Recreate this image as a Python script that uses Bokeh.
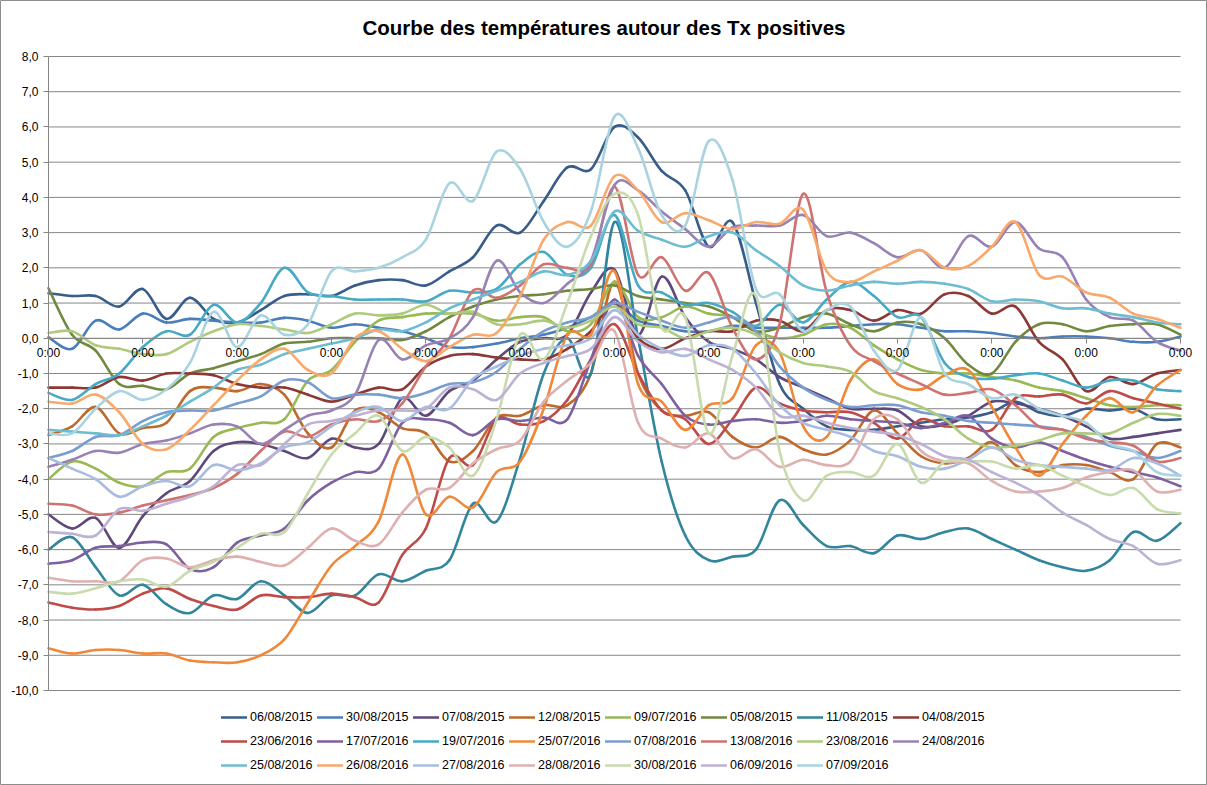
from bokeh.plotting import figure
from bokeh.models import Range1d, FixedTicker, LinearAxis, Legend, LegendItem, ColumnDataSource, Label
from bokeh.embed import file_html
from bokeh.resources import INLINE

# time axis (hours around the day of the positive Tx), one value every 6 h
hours = list(range(-144, 145, 6))
day_ticks = list(range(-144, 145, 24))
y_ticks = list(range(-10, 9))

t_06_08_2015 = [1.28, 1.2, 1.2, 0.9, 1.4, 0.55, 1.15, 0.55, 0.45, 0.8, 1.2, 1.25, 1.2, 1.5, 1.65, 1.65, 1.5, 1.9, 2.3, 3.2, 3.0, 3.9, 4.85, 4.8, 6.0, 5.7, 4.75, 4.2, 2.6, 3.3, 1.0, -1.3, -2.0, -2.5, -2.6, -2.6, -2.5, -2.4, -2.3, -2.25, -2.1, -1.8, -2.1, -2.2, -2.0, -2.05, -2.0, -2.3, -2.3]
t_30_08_2015 = [0.03, -0.3, 0.5, 0.25, 0.7, 0.45, 0.55, 0.5, 0.45, 0.45, 0.58, 0.5, 0.3, 0.4, 0.3, 0.2, 0.0, -0.25, -0.25, -0.15, 0.0, 0.1, 0.3, 0.6, 1.0, 0.5, 0.35, 0.2, 0.2, 0.35, 0.3, 0.3, 0.3, 0.3, 0.35, 0.4, 0.4, 0.3, 0.2, 0.2, 0.15, 0.05, 0.0, 0.05, 0.05, 0.0, -0.1, -0.1, 0.05]
t_07_08_2015 = [-5.0, -5.4, -5.1, -5.95, -5.05, -4.4, -4.05, -3.2, -2.95, -3.0, -3.2, -3.4, -2.85, -3.1, -3.0, -1.7, -2.2, -1.5, -1.2, -0.6, -0.1, 0.0, 0.1, 1.3, 1.95, 0.1, 1.75, 0.6, -0.1, -0.3, -0.6, -1.1, -1.4, -1.7, -2.0, -2.0, -2.05, -2.5, -2.45, -2.2, -1.8, -1.85, -2.0, -2.2, -2.5, -2.85, -2.8, -2.7, -2.6]
t_12_08_2015 = [-2.75, -2.5, -1.95, -2.7, -2.55, -2.4, -1.5, -1.4, -1.5, -1.3, -1.6, -2.7, -3.1, -2.05, -2.1, -2.55, -2.7, -3.5, -3.2, -2.25, -2.2, -1.9, -1.9, -1.0, 1.6, -1.0, -2.05, -2.2, -2.1, -2.8, -3.1, -2.8, -3.15, -3.3, -2.9, -2.05, -2.7, -3.35, -3.55, -3.4, -2.95, -3.6, -3.8, -3.6, -3.6, -3.8, -4.0, -3.0, -3.1]
t_09_07_2016 = [-4.0, -3.5, -3.7, -4.1, -4.2, -3.8, -3.7, -2.8, -2.55, -2.4, -2.3, -1.2, -0.9, -0.1, 0.5, 0.6, 0.7, 0.7, 0.7, 0.5, 0.6, 0.6, 0.2, 0.4, 1.6, 0.6, 0.6, 0.9, 0.7, 0.6, 0.2, 0.0, 0.1, 0.4, 0.3, -0.2, -0.6, -0.9, -1.0, -1.0, -1.1, -1.2, -1.4, -1.5, -1.7, -1.9, -1.95, -1.9, -1.9]
t_05_08_2015 = [1.42, 0.1, -0.35, -1.3, -1.35, -1.45, -1.0, -0.85, -0.65, -0.45, -0.15, -0.1, 0.0, 0.0, 0.0, -0.05, 0.2, 0.6, 0.9, 1.1, 1.2, 1.25, 1.35, 1.4, 1.5, 1.2, 1.1, 1.0, 0.9, 0.6, 0.2, 0.3, 0.6, 0.7, 0.4, 0.2, 0.45, 0.4, 0.0, -0.75, -1.0, -0.1, 0.4, 0.4, 0.2, 0.35, 0.4, 0.4, 0.1]
t_11_08_2015 = [-6.0, -5.65, -6.5, -7.3, -7.0, -7.55, -7.8, -7.3, -7.4, -6.9, -7.3, -7.8, -7.3, -7.3, -6.7, -6.9, -6.6, -6.3, -4.7, -5.2, -3.4, -1.0, 0.0, -1.0, 3.3, 0.0, -3.5, -5.6, -6.3, -6.2, -6.0, -4.6, -5.3, -5.9, -5.9, -6.1, -5.6, -5.7, -5.5, -5.4, -5.7, -6.0, -6.3, -6.5, -6.6, -6.3, -5.5, -5.75, -5.25]
t_04_08_2015 = [-1.4, -1.4, -1.4, -1.1, -1.2, -1.0, -1.0, -1.05, -1.3, -1.4, -1.4, -1.6, -1.8, -1.6, -1.4, -1.45, -0.8, -0.5, -0.45, -0.55, -0.6, -0.6, -0.3, 0.2, 1.0, 0.0, -0.3, 0.0, 0.2, 0.2, 0.5, 0.5, 0.2, 0.8, 0.8, 0.5, 0.8, 0.7, 1.25, 1.2, 0.7, 0.9, -0.1, -0.6, -1.5, -1.1, -1.3, -1.0, -0.9]
t_23_06_2016 = [-7.5, -7.65, -7.7, -7.6, -7.25, -7.1, -7.4, -7.6, -7.7, -7.3, -7.35, -7.35, -7.25, -7.35, -7.5, -6.15, -5.4, -3.4, -3.6, -2.3, -2.45, -2.35, -1.75, -0.6, 0.4, -1.0, -2.05, -2.3, -3.0, -2.3, -1.4, -1.85, -2.05, -2.1, -2.1, -2.4, -2.85, -2.3, -2.5, -2.5, -2.6, -1.7, -1.65, -1.6, -1.85, -1.5, -1.7, -1.85, -2.0]
t_17_07_2016 = [-6.4, -6.3, -5.95, -5.9, -5.8, -5.85, -6.55, -6.5, -5.8, -5.6, -5.4, -4.6, -4.1, -3.8, -3.7, -2.4, -2.3, -2.4, -2.75, -2.3, -2.35, -2.25, -2.3, -0.6, 1.1, -0.5, -1.3, -2.2, -2.45, -2.35, -2.3, -2.4, -2.35, -2.2, -2.3, -2.35, -2.4, -2.55, -2.4, -2.2, -2.85, -3.1, -2.95, -3.2, -3.45, -3.65, -3.8, -3.95, -4.2]
t_19_07_2016 = [-1.55, -1.75, -1.3, -1.0, -0.25, 0.2, 0.1, 0.95, 0.45, 1.0, 2.0, 1.3, 1.2, 1.1, 1.1, 1.1, 1.05, 1.35, 1.3, 1.4, 2.1, 2.45, 1.8, 2.0, 3.5, 1.5, 1.3, 0.95, 1.0, 0.75, 0.35, 0.95, 0.45, 1.1, 1.6, 1.2, 0.6, 0.6, -0.7, -1.1, -1.15, -1.05, -1.0, -1.2, -1.4, -1.2, -1.2, -1.45, -1.5]
t_25_07_2016 = [-8.8, -8.95, -8.85, -8.85, -8.95, -8.95, -9.15, -9.2, -9.2, -9.0, -8.55, -7.5, -6.45, -5.9, -5.2, -3.3, -5.0, -4.5, -4.8, -3.8, -3.5, -2.0, 0.1, 0.1, 1.9, -1.3, -1.8, -2.6, -1.9, -1.7, -0.2, -0.4, -2.5, -2.8, -1.2, -0.6, -1.3, -1.45, -1.05, -0.9, -1.95, -3.1, -3.9, -3.0, -2.2, -1.7, -2.1, -1.35, -0.9]
t_07_08_2016 = [-3.4, -3.2, -2.8, -2.75, -2.35, -2.1, -2.05, -2.05, -1.85, -1.65, -1.2, -1.25, -1.7, -1.6, -1.6, -1.7, -1.55, -1.3, -1.25, -0.95, -0.3, 0.2, 0.45, 0.6, 1.0, 0.75, 0.5, 0.3, 0.45, 0.6, 0.2, -0.8, -1.4, -1.75, -1.95, -1.9, -1.9, -2.1, -2.2, -2.35, -2.4, -2.45, -2.5, -2.6, -2.8, -3.05, -3.2, -3.4, -3.2]
t_13_08_2016 = [-4.7, -4.75, -5.0, -4.95, -4.75, -4.6, -4.45, -4.25, -3.85, -3.2, -2.65, -2.8, -2.45, -2.3, -2.35, -1.85, -0.8, 0.0, 1.35, 1.15, 1.5, 2.1, 2.0, 2.1, 4.3, 1.8, 2.3, 1.35, 1.85, 0.3, -0.6, 0.4, 4.1, 1.3, -0.2, -0.65, -1.0, -1.3, -1.6, -1.55, -1.45, -1.9, -2.5, -2.6, -2.85, -2.95, -3.05, -3.5, -3.4]
t_23_08_2016 = [0.15, 0.2, -0.2, -0.3, -0.45, -0.45, -0.1, 0.2, 0.4, 0.35, 0.25, 0.15, 0.4, 0.7, 0.65, 0.7, 0.95, 0.7, 0.75, 0.4, 0.4, 0.5, 0.3, 0.5, 0.9, 0.4, 0.3, 0.0, 0.2, 0.3, 0.1, -0.4, -0.7, -0.8, -0.95, -1.5, -1.7, -1.95, -2.3, -2.85, -3.1, -3.05, -2.9, -2.7, -2.7, -2.7, -2.4, -2.15, -2.2]
t_24_08_2016 = [-3.65, -3.45, -3.2, -3.25, -3.0, -2.9, -2.7, -2.45, -2.5, -3.0, -2.6, -2.2, -2.05, -1.6, -0.05, -0.6, -0.2, 0.0, 0.6, 2.2, 1.3, 1.0, 1.55, 2.2, 4.35, 4.2, 3.6, 3.1, 2.6, 3.15, 3.2, 3.2, 3.5, 2.9, 3.0, 2.7, 2.3, 2.5, 2.0, 2.9, 2.6, 3.3, 2.55, 2.3, 1.1, 0.6, 0.5, -0.1, -0.35]
t_25_08_2016 = [-2.6, -2.65, -2.7, -2.75, -2.5, -2.2, -1.8, -1.4, -0.9, -0.75, -0.45, -0.3, -0.15, 0.0, 0.25, 0.2, 0.45, 0.85, 1.1, 1.35, 1.6, 1.9, 1.8, 2.2, 3.6, 3.05, 2.8, 2.6, 2.9, 3.0, 2.5, 2.05, 1.5, 1.35, 1.5, 1.6, 1.55, 1.6, 1.55, 1.4, 1.05, 1.1, 1.05, 0.85, 0.85, 0.7, 0.6, 0.45, 0.4]
t_26_08_2016 = [-1.8, -1.85, -1.6, -2.1, -3.0, -3.15, -2.6, -1.9, -1.2, -0.6, -0.3, -0.9, -1.0, 0.0, 0.2, -0.3, -0.65, -0.25, 0.1, 0.15, 1.2, 2.8, 3.3, 3.2, 4.6, 4.2, 3.3, 3.55, 3.35, 3.1, 3.3, 3.25, 3.65, 1.9, 1.6, 1.9, 2.2, 2.5, 2.0, 2.05, 2.6, 3.3, 1.8, 1.75, 1.3, 1.15, 0.7, 0.55, 0.3]
t_27_08_2016 = [-3.4, -3.7, -4.0, -4.5, -4.2, -4.05, -4.2, -3.6, -3.75, -3.55, -3.1, -2.95, -2.5, -2.1, -1.95, -2.35, -1.95, -2.0, -1.15, -0.8, -0.5, -0.3, -0.2, 0.0, 0.8, 0.1, -0.3, -0.5, -0.2, -0.3, -1.0, -1.9, -2.4, -2.6, -2.8, -3.2, -3.35, -3.65, -3.7, -3.45, -3.1, -3.45, -3.6, -3.65, -3.7, -3.75, -3.4, -3.55, -3.9]
t_28_08_2016 = [-6.8, -6.9, -6.9, -6.9, -6.3, -6.25, -6.5, -6.3, -6.2, -6.35, -6.45, -5.95, -5.4, -5.75, -5.85, -4.95, -4.3, -4.25, -3.55, -3.15, -2.9, -1.8, -1.2, -0.7, 0.2, -2.4, -2.85, -3.1, -2.7, -3.4, -3.15, -3.65, -3.45, -3.6, -3.5, -2.3, -2.3, -3.2, -3.5, -3.55, -4.05, -4.35, -4.35, -4.25, -3.95, -3.8, -3.75, -4.35, -4.3]
t_30_08_2016 = [-7.2, -7.25, -7.1, -6.9, -6.85, -7.05, -6.6, -6.35, -5.95, -5.55, -5.5, -4.4, -3.3, -2.7, -2.2, -3.2, -2.8, -3.1, -3.9, -2.3, 0.1, -0.6, 1.0, 2.9, 4.1, 3.5, 0.3, 0.6, -2.7, -0.5, 1.2, -3.2, -4.6, -3.9, -3.8, -3.9, -3.0, -4.1, -3.5, -3.5, -3.5, -3.7, -3.6, -3.9, -4.2, -4.45, -4.25, -4.85, -4.97]
t_06_09_2016 = [-5.5, -5.55, -5.6, -4.85, -4.9, -4.7, -4.5, -4.2, -3.6, -3.6, -3.0, -2.45, -2.35, -2.2, -2.05, -2.05, -2.0, -1.4, -1.45, -1.75, -1.0, -0.7, -0.5, -0.3, 0.6, -0.1, -0.4, -0.3, -0.6, -0.9, -1.4, -2.2, -2.2, -2.4, -2.55, -2.65, -2.75, -3.0, -3.35, -3.45, -3.8, -4.1, -4.45, -4.95, -5.3, -5.7, -5.9, -6.4, -6.3]
t_07_09_2016 = [-2.7, -2.7, -2.0, -1.5, -1.75, -1.45, -0.7, 0.75, -0.25, 0.65, 0.1, 0.4, 1.9, 1.9, 2.0, 2.3, 2.8, 4.4, 3.9, 5.3, 4.8, 3.3, 2.6, 3.6, 6.3, 5.4, 3.5, 3.2, 5.6, 4.5, 1.4, 1.25, 0.2, 0.8, 0.9, -0.35, -0.9, 0.6, -1.0, -1.3, -1.7, -1.6, -2.0, -2.2, -2.4, -3.0, -3.2, -3.8, -3.9]

labels = ["06/08/2015", "30/08/2015", "07/08/2015", "12/08/2015", "09/07/2016", "05/08/2015",
          "11/08/2015", "04/08/2015", "23/06/2016", "17/07/2016", "19/07/2016", "25/07/2016",
          "07/08/2016", "13/08/2016", "23/08/2016", "24/08/2016", "25/08/2016", "26/08/2016",
          "27/08/2016", "28/08/2016", "30/08/2016", "06/09/2016", "07/09/2016"]
series = [t_06_08_2015, t_30_08_2015, t_07_08_2015, t_12_08_2015, t_09_07_2016, t_05_08_2015,
          t_11_08_2015, t_04_08_2015, t_23_06_2016, t_17_07_2016, t_19_07_2016, t_25_07_2016,
          t_07_08_2016, t_13_08_2016, t_23_08_2016, t_24_08_2016, t_25_08_2016, t_26_08_2016,
          t_27_08_2016, t_28_08_2016, t_30_08_2016, t_06_09_2016, t_07_09_2016]
colors = ["#385D8A", "#4A7EBB", "#5F497A", "#BE6A2C", "#98B954", "#71893F",
          "#31859C", "#8C3836", "#BE4B48", "#7D60A0", "#46AAC5", "#F0883A",
          "#7A9DD0", "#CF7371", "#AECB7D", "#9882B5", "#6DBCD1", "#F8A96B",
          "#A8BCE0", "#DEB0AF", "#C8DBAC", "#BDB2D4", "#AAD3E0"]
title_text = "Courbe des températures autour des Tx positives"

for s in series:
    assert len(s) == len(hours), len(s)


def smooth_source(xs, ys):
    """Bezier segments through the data points (Excel-like smoothed line)."""
    n = len(xs)
    d = dict(x0=[], y0=[], x1=[], y1=[], cx0=[], cy0=[], cx1=[], cy1=[])
    for i in range(n - 1):
        xa, ya, xb, yb = xs[i], ys[i], xs[i + 1], ys[i + 1]
        xp, yp = (xs[i - 1], ys[i - 1]) if i > 0 else (xa, ya)
        xn, yn = (xs[i + 2], ys[i + 2]) if i + 2 < n else (xb, yb)
        d["x0"].append(xa); d["y0"].append(ya)
        d["x1"].append(xb); d["y1"].append(yb)
        d["cx0"].append(xa + (xb - xp) / 6.0); d["cy0"].append(ya + (yb - yp) / 6.0)
        d["cx1"].append(xb - (xn - xa) / 6.0); d["cy1"].append(yb - (yn - ya) / 6.0)
    return ColumnDataSource(d)


# Page layout: the plotting frame covers the whole page; the value scales put
# -144 h at x=48 px, +144 h at x=1180 px, 8 at y=56 px and -10 at y=690 px.
W, H = 1207, 785
PX_H = (1180 - 48) / 288.0
PX_V = (690 - 56) / 18.0
X_LEFT = -144 - 48 / PX_H
X_RIGHT = -144 + (W - 48) / PX_H
Y_TOP = 8 + 56 / PX_V
Y_BOTTOM = 8 - (H - 56) / PX_V

p = figure(width=W, height=H, output_backend="svg", toolbar_location=None,
           x_range=Range1d(X_LEFT, X_RIGHT), y_range=Range1d(Y_BOTTOM, Y_TOP),
           x_axis_location=None, y_axis_location=None,
           min_border_left=0, min_border_right=0, min_border_top=0, min_border_bottom=0,
           background_fill_color="white", border_fill_color="white")
# thin grey chart-area border around the whole page
p.outline_line_color = "#8c8c8c"
p.outline_line_width = 1
p.title.visible = False
p.grid.visible = False

# horizontal gridlines at each degree, from the value axis to the right end
p.segment(x0=[-144] * len(y_ticks), y0=y_ticks, x1=[144] * len(y_ticks), y1=y_ticks,
          line_color="#868686", line_width=1)

# y axis at the left end of the time span
yax = LinearAxis(fixed_location=-144, bounds=(-10, 8), ticker=FixedTicker(ticks=y_ticks),
                 major_label_overrides={float(v): f"{v},0" for v in y_ticks})
yax.axis_line_color = "#868686"
yax.major_tick_line_color = "#868686"
yax.major_tick_out = 5
yax.major_tick_in = 0
yax.minor_tick_line_color = None
yax.major_label_text_font = "Liberation Sans"
yax.major_label_text_font_size = "12px"
yax.major_label_text_color = "black"
yax.major_label_standoff = 5
p.add_layout(yax, "left")

# x axis crossing at 0
xax = LinearAxis(fixed_location=0, bounds=(-144, 144), ticker=FixedTicker(ticks=day_ticks),
                 major_label_overrides={float(t): "0:00" for t in day_ticks})
xax.axis_line_color = "#868686"
xax.major_tick_line_color = "#868686"
xax.major_tick_out = 5
xax.major_tick_in = 0
xax.minor_tick_line_color = None
xax.major_label_text_font = "Liberation Sans"
xax.major_label_text_font_size = "12px"
xax.major_label_text_color = "black"
xax.major_label_standoff = 3
p.add_layout(xax, "below")

items = []
for lab, ys, col in zip(labels, series, colors):
    src = smooth_source(hours, ys)
    r = p.bezier(x0="x0", y0="y0", x1="x1", y1="y1", cx0="cx0", cy0="cy0", cx1="cx1", cy1="cy1",
                 source=src, line_color=col, line_width=2.6, line_cap="round")
    items.append(LegendItem(label=lab, renderers=[r]))

# chart title, centred on the page at y = 27 px
title = Label(x=-144 + (W / 2 - 48) / PX_H, y=8 + (56 - 27) / PX_V, text=title_text,
              text_align="center", text_baseline="middle",
              text_font="Liberation Sans", text_font_size="20.5px", text_font_style="bold",
              text_color="black")
p.add_layout(title)

legend = Legend(items=items, location=(221, 9), orientation="horizontal", ncols=8,
                glyph_width=26, glyph_height=22, label_height=22, label_width=65,
                label_standoff=3, spacing=2, padding=0, margin=0,
                border_line_alpha=0, background_fill_alpha=0,
                label_text_font="Liberation Sans", label_text_font_size="12.5px",
                label_text_color="black")
p.add_layout(legend)

open("out.html", "w").write(file_html(p, INLINE))
